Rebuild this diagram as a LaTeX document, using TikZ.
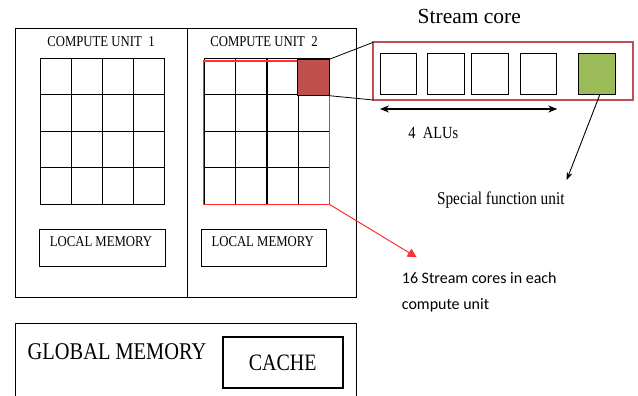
\documentclass[tikz,border=0pt]{standalone}
\usepackage{fontspec}
\setmainfont{Liberation Serif}[FakeStretch=0.85]
\newfontfamily\wideserif{Liberation Serif}
\newfontfamily\calib{Carlito}
\usetikzlibrary{arrows.meta,calc}
\definecolor{cellred}{HTML}{C0504D}
\definecolor{sfugreen}{HTML}{9BBB59}
\definecolor{lightred}{HTML}{FF3030}
\begin{document}
\begin{tikzpicture}[x=1pt,y=-1pt,
  box/.style={draw, line width=1pt, inner sep=0pt, outer sep=0pt, anchor=north west},
  gridline/.style={line width=1.1pt},
  alubox/.style={box, line width=1pt, minimum width=36.7pt, minimum height=40.3pt},
  txt/.style={inner sep=0pt, anchor=center},
  fs/.style={font=\fontsize{#1}{#1}\selectfont}]
\useasboundingbox (0,0) rectangle (638,396);
% compute units
\node[box, minimum width=171.6pt, minimum height=269pt] (cu1) at (15.7,28.3) {};
\node[box, minimum width=169.4pt, minimum height=269pt] (cu2) at (187.3,28.3) {};
\node[txt, fs=15] (t1) at (101,41.7) {COMPUTE UNIT\ \ 1};
\node[txt, fs=15] (t2) at (264,41.7) {COMPUTE UNIT\ \ 2};
% grid 1
\node[box, gridline, minimum width=124pt, minimum height=146pt] (g1) at (40.7,58.3) {};
\foreach \i in {1,2,3} {
  \draw[gridline] (40.7+31*\i,58.3) -- (40.7+31*\i,204.3);
  \draw[gridline] (40.7,58.3+36.5*\i) -- (164.7,58.3+36.5*\i);
}
% grid 2
\node[box, gridline, minimum width=124.6pt, minimum height=146pt] (g2) at (204.7,58.3) {};
\foreach \i in {1,2,3} {
  \draw[gridline] (204.7+31.15*\i,58.3) -- (204.7+31.15*\i,204.3);
  \draw[gridline] (204.7,58.3+36.5*\i) -- (329.3,58.3+36.5*\i);
}
\node[box, draw=lightred, line width=1.2pt, minimum width=126pt, minimum height=143.3pt] (redbox) at (203.3,61) {};
\node[box, gridline, fill=cellred, minimum width=31.6pt, minimum height=36.4pt] (cell) at (297.7,59.3) {};
% local memories
\node[box, minimum width=125.7pt, minimum height=37.7pt] (lm1) at (39.3,229) {};
\node[box, minimum width=125.7pt, minimum height=37.7pt] (lm2) at (201,229) {};
\node[txt, fs=15] at (101,241.7) {LOCAL MEMORY};
\node[txt, fs=15] at (262.7,241.7) {LOCAL MEMORY};
% stream core
\node[txt, font=\wideserif\fontsize{21.5}{21.5}\selectfont] (sct) at (469.3,16.7) {Stream core};
\node[box, draw=cellred, line width=2pt, minimum width=260pt, minimum height=57.7pt] (sc) at (373.3,42.3) {};
\node[alubox] (a1) at (380,54) {};
\node[alubox] (a2) at (427.7,54) {};
\node[alubox] (a3) at (471.7,54) {};
\node[alubox] (a4) at (520,54) {};
\node[alubox, fill=sfugreen] (sfu) at (578.3,54) {};
\draw[line width=0.8pt] (cell.north east) -- (sc.north west);
\draw[line width=0.8pt] (cell.south east) -- (sc.south west);
% 4 ALUs arrow
\coordinate (da1) at (380,109);
\coordinate (da2) at (557.3,109);
\draw[line width=1.2pt, {Stealth[length=9pt,width=7pt]}-{Stealth[length=9pt,width=7pt]}] (da1) -- (da2);
\node[txt, fs=17] (alut) at (433.3,132.7) {4\ \ ALUs};
% special function unit
\coordinate (sfuend) at (566.7,180);
\draw[line width=0.9pt, -{Stealth[length=8pt,width=6pt]}] ($(sfu.south)+(3.3,0)$) -- (sfuend);
\node[txt, fs=18] (sfut) at (500.8,200) {Special function unit};
% red arrow
\coordinate (rend) at (416.7,257.3);
\draw[lightred, line width=1pt, -{Triangle[length=9pt,width=9pt]}] (redbox.south east) -- (rend);
\node[anchor=west, inner sep=0pt, font=\calib\fontsize{16}{26}\selectfont, align=left] (sct2) at (401.7,292) {16 Stream cores in each\\compute unit};
% global memory
\draw[line width=1pt] (15.7,398) -- (15.7,323.3) coordinate (gm1) -- (356.7,323.3) coordinate (gm2) -- (356.7,398);
\node[txt, fs=24] (gmt) at (117,351.7) {GLOBAL MEMORY};
\node[box, line width=2.2pt, minimum width=120pt, minimum height=51.6pt] (cache) at (222.7,336.7) {};
\node[txt, fs=23.5] at (cache.center) {CACHE};
\end{tikzpicture}
\end{document}
